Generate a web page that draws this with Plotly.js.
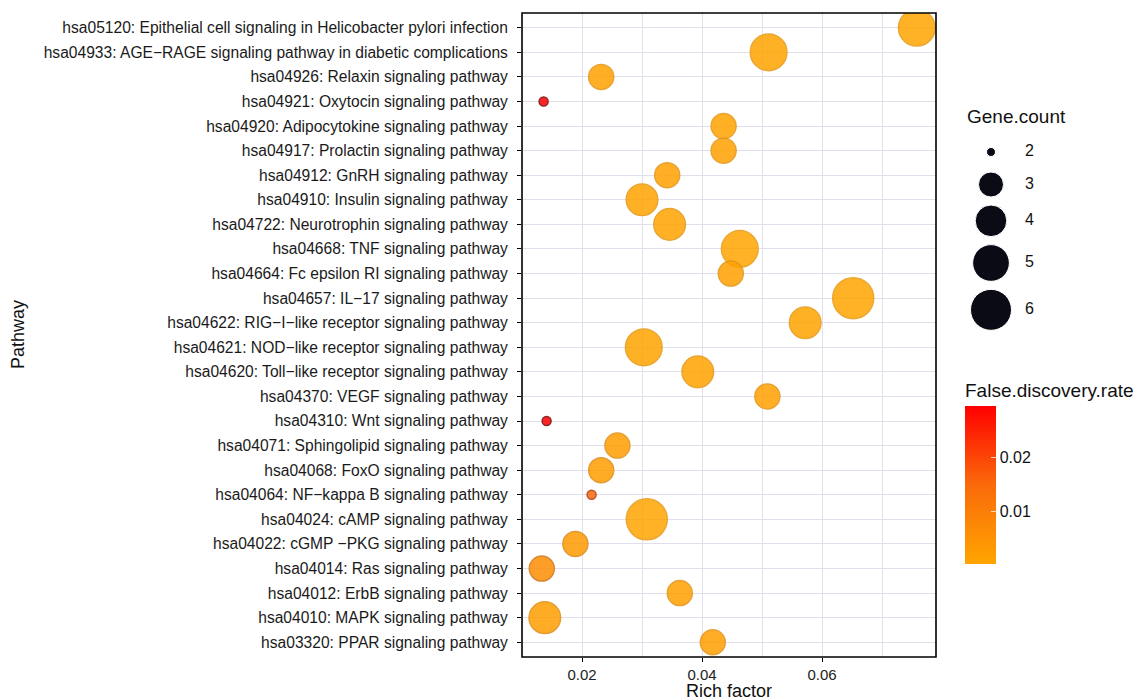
<!DOCTYPE html>
<html><head><meta charset="utf-8">
<script src="https://cdn.plot.ly/plotly-3.0.1.min.js"></script>
<style>html,body{margin:0;padding:0;background:#fff}#chart{width:1141px;height:700px}</style>
</head><body><div id="chart"></div>
<script>
// ---- data (top to bottom as shown) ----
const pathways = [
  "hsa05120: Epithelial cell signaling in Helicobacter pylori infection",
  "hsa04933: AGE\u2212RAGE signaling pathway in diabetic complications",
  "hsa04926: Relaxin signaling pathway",
  "hsa04921: Oxytocin signaling pathway",
  "hsa04920: Adipocytokine signaling pathway",
  "hsa04917: Prolactin signaling pathway",
  "hsa04912: GnRH signaling pathway",
  "hsa04910: Insulin signaling pathway",
  "hsa04722: Neurotrophin signaling pathway",
  "hsa04668: TNF signaling pathway",
  "hsa04664: Fc epsilon RI signaling pathway",
  "hsa04657: IL\u221217 signaling pathway",
  "hsa04622: RIG\u2212I\u2212like receptor signaling pathway",
  "hsa04621: NOD\u2212like receptor signaling pathway",
  "hsa04620: Toll\u2212like receptor signaling pathway",
  "hsa04370: VEGF signaling pathway",
  "hsa04310: Wnt signaling pathway",
  "hsa04071: Sphingolipid signaling pathway",
  "hsa04068: FoxO signaling pathway",
  "hsa04064: NF\u2212kappa B signaling pathway",
  "hsa04024: cAMP signaling pathway",
  "hsa04022: cGMP \u2212PKG signaling pathway",
  "hsa04014: Ras signaling pathway",
  "hsa04012: ErbB signaling pathway",
  "hsa04010: MAPK signaling pathway",
  "hsa03320: PPAR signaling pathway"
];
const richFactor = [0.0758,0.0511,0.0232,0.0136,0.0436,0.0436,0.0342,0.0300,0.0346,0.0463,0.0448,0.0652,0.0572,
                    0.0303,0.0393,0.0509,0.0141,0.0259,0.0232,0.0216,0.0308,0.0189,0.0133,0.0363,0.0138,0.0418];
const geneCount  = [5,5,3,2,3,3,3,4,4,5,3,6,4,5,4,3,2,3,3,2,6,3,3,3,4,3];
const fdr        = [0.0005,0.0006,0.0012,0.0294,0.0010,0.0011,0.0013,0.0009,0.0008,0.0004,0.0015,0.0004,0.0007,
                    0.0006,0.0009,0.0014,0.0294,0.0020,0.0024,0.0150,0.0005,0.0030,0.0060,0.0016,0.0022,0.0018];
const legendCounts = [2,3,4,5,6];
const xTickVals = [0.02,0.04,0.06];
const fdrTickVals = [0.01,0.02];

// ---- layout geometry ----
const W=1141,H=700,L=522,R=10,T=13,B=43;
const plotW=W-L-R, plotH=H-T-B;
const mainRight=936;
const px2x = px => (px-L)/plotW;
const px2y = py => (H-B-py)/plotH;

const cMin=Math.min(...legendCounts), cMax=Math.max(...legendCounts), dMin=9, dMax=41;
const diam = c => dMin+(dMax-dMin)*Math.sqrt((c-cMin)/(cMax-cMin));

// size legend vertical positions (key heights grow with size)
const keyH = legendCounts.map(c => Math.max(diam(c),24)+8);
const legY = []; let yy = 139;
legendCounts.forEach((c,i)=>{ if(i>0) yy += (keyH[i-1]+keyH[i])/2; legY.push(yy); });

const font = "Liberation Sans, Arial, sans-serif";
const gridC = "#DFE0EA";

const mainTrace = {
  type:"scatter", mode:"markers", x:richFactor, y:pathways, showlegend:false,
  marker:{
    size:geneCount.map(diam), sizemode:"diameter", opacity:0.85,
    color:fdr, colorscale:[[0,"#FFA500"],[0.5,"#FA6A0A"],[1,"#FF0000"]],
    line:{width:1.5, color:fdr, colorscale:[[0,"#E89A10"],[0.5,"#B03810"],[1,"#7A0000"]]},
    colorbar:{
      x:px2x(965), xanchor:"left", y:px2y(564), yanchor:"bottom",
      len:(564-380)/plotH, lenmode:"fraction", thickness:31, thicknessmode:"pixels",
      xpad:0, ypad:0, outlinewidth:0,
      tickvals:fdrTickVals, ticktext:fdrTickVals.map(v=>v.toFixed(2)),
      ticks:"inside", ticklen:5, tickcolor:"rgba(255,255,255,0.75)", tickwidth:1,
      tickfont:{family:font,size:16,color:"#111"},
      title:{text:"False.discovery.rate", side:"top", font:{family:font,size:19,color:"#111"}}
    }
  }
};

const legendDots = {
  type:"scatter", mode:"markers", xaxis:"x2", yaxis:"y2", showlegend:false, hoverinfo:"skip",
  x:legendCounts.map(()=>31), y:legY,
  marker:{size:legendCounts.map(diam), sizemode:"diameter", color:"#0b0b16", opacity:1}
};
const legendText = {
  type:"scatter", mode:"text", xaxis:"x2", yaxis:"y2", showlegend:false, hoverinfo:"skip",
  x:legendCounts.map(()=>65), y:legY, text:legendCounts.map(String),
  textposition:"middle right", textfont:{family:font,size:16,color:"#111"}
};

const layout = {
  width:W, height:H, paper_bgcolor:"#fff", plot_bgcolor:"#fff",
  margin:{l:L,r:R,t:T,b:B,autoexpand:false},
  font:{family:font,color:"#1a1a1a"},
  xaxis:{
    domain:[0,px2x(mainRight)], range:[0.010,0.079],
    tickvals:xTickVals, ticktext:xTickVals.map(v=>v.toFixed(2)),
    ticks:"outside", ticklen:4, tickcolor:"#000",
    tickfont:{family:font,size:15,color:"#222"},
    showgrid:true, gridcolor:gridC, gridwidth:1,
    minor:{dtick:0.01, tick0:0, showgrid:true, gridcolor:gridC, gridwidth:1},
    showline:false, zeroline:false
  },
  yaxis:{
    type:"category", categoryorder:"array", categoryarray:pathways.slice().reverse(),
    range:[-0.6, pathways.length-0.4],
    ticks:"outside", ticklen:4, tickcolor:"#000", ticklabelstandoff:6,
    tickfont:{family:font,size:15.6,color:"#1a1a1a"},
    showgrid:true, gridcolor:gridC, gridwidth:1,
    showline:false, zeroline:false
  },
  xaxis2:{domain:[px2x(960),px2x(1080)], range:[0,120], anchor:"y2", visible:false, fixedrange:true},
  yaxis2:{domain:[0,1], range:[plotH,0], anchor:"x2", visible:false, fixedrange:true},
  shapes:[
    {type:"rect", xref:"x domain", yref:"y domain", x0:0, x1:1, y0:0, y1:1,
     line:{color:"#000", width:1.6}, fillcolor:"rgba(0,0,0,0)", layer:"above"}
  ],
  annotations:[
    {text:"Rich factor", xref:"paper", yref:"paper", x:px2x(729), y:px2y(691),
     showarrow:false, xanchor:"center", yanchor:"middle", font:{family:font,size:18,color:"#111"}},
    {text:"Pathway", xref:"paper", yref:"paper", x:px2x(18), y:0.5, textangle:-90,
     showarrow:false, xanchor:"center", yanchor:"middle", font:{family:font,size:18,color:"#111"}},
    {text:"Gene.count", xref:"paper", yref:"paper", x:px2x(965), y:px2y(117),
     showarrow:false, xanchor:"left", yanchor:"middle", font:{family:font,size:19,color:"#111"}}
  ]
};

Plotly.newPlot("chart",[mainTrace,legendDots,legendText],layout,{displayModeBar:false,staticPlot:true});
</script></body></html>
